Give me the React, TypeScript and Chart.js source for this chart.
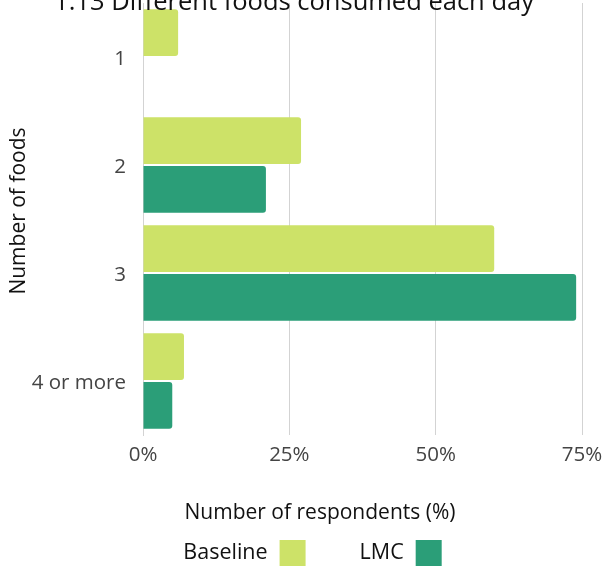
import React, { useEffect, useRef } from "react";
import { Chart, registerables } from "chart.js";

Chart.register(...registerables);

const TITLE = "1.13 Different foods consumed each day";
const categories = ["1", "2", "3", "4 or more"];
const baseline = [6, 27, 60, 7];
const lmc = [0, 21, 74, 5];
const xTicks = [0, 25, 50, 75];
const seriesNames = ["Baseline", "LMC"];
const seriesColors = ["#cde268", "#2b9e78"];
const xTitle = "Number of respondents (%)";
const yTitle = "Number of foods";

const FONT = "'Open Sans', sans-serif";

const textPlugin = {
  id: "chartTexts",
  afterDraw(chart: any) {
    const ctx = chart.ctx;
    ctx.save();
    // main title (cut off at the top edge, as in the reference)
    ctx.font = `25.5px ${FONT}`;
    ctx.fillStyle = "#111";
    ctx.textAlign = "center";
    ctx.textBaseline = "alphabetic";
    ctx.fillText(TITLE, 294, 10);

    // x-axis title
    ctx.font = `21px ${FONT}`;
    ctx.textBaseline = "middle";
    ctx.fillText(xTitle, 320, 513);

    // y-axis title
    ctx.save();
    ctx.translate(19, 211);
    ctx.rotate(-Math.PI / 2);
    ctx.fillText(yTitle, 0, 0);
    ctx.restore();

    // legend: label first, then colour box
    const box = 26;
    const gapText = 12;
    const gapItem = 54;
    ctx.font = `21.5px ${FONT}`;
    const items = chart.data.datasets.map((ds: any) => ({
      label: ds.label,
      color: ds.backgroundColor,
      w: ctx.measureText(ds.label).width,
    }));
    const total = items.reduce(
      (s: number, it: any, i: number) => s + it.w + gapText + box + (i ? gapItem : 0),
      0
    );
    let x = 312.5 - total / 2;
    const cy = 553;
    ctx.textAlign = "left";
    items.forEach((it: any, i: number) => {
      if (i) x += gapItem;
      ctx.fillStyle = "#111";
      ctx.fillText(it.label, x, cy);
      x += it.w + gapText;
      ctx.fillStyle = it.color;
      ctx.fillRect(x, cy - box / 2, box, box);
      x += box;
    });
    ctx.restore();
  },
};

export default function App() {
  const ref = useRef<HTMLCanvasElement | null>(null);

  useEffect(() => {
    if (!ref.current) return;
    const chart = new Chart(ref.current, {
      type: "bar",
      data: {
        labels: categories,
        datasets: [
          {
            label: seriesNames[0],
            data: baseline,
            backgroundColor: seriesColors[0],
            borderRadius: 3,
            borderSkipped: "start",
          },
          {
            label: seriesNames[1],
            data: lmc,
            backgroundColor: seriesColors[1],
            borderRadius: 3,
            borderSkipped: "start",
          },
        ],
      },
      options: {
        indexAxis: "y",
        animation: false,
        responsive: true,
        maintainAspectRatio: false,
        layout: { autoPadding: false, padding: { top: 3, bottom: 40, left: 0, right: 21 } },
        datasets: { bar: { categoryPercentage: 0.9, barPercentage: 0.96 } } as any,
        plugins: {
          legend: { display: false },
          title: { display: false },
          tooltip: { enabled: false },
        },
        scales: {
          x: {
            min: 0,
            max: 75,
            afterBuildTicks: (s: any) => {
              s.ticks = xTicks.map((v) => ({ value: v }));
            },
            ticks: {
              callback: (v: any) => v + "%",
              font: { family: FONT, size: 20.5 },
              color: "#444",
              padding: 8,
              maxRotation: 0,
            },
            grid: { color: "#d3d3d3", drawTicks: false },
            border: { display: false },
            afterFit: (s: any) => {
              s.height = 93;
              s.paddingLeft = 0;
              s.paddingRight = 0;
              s.paddingTop = 0;
              s.paddingBottom = 0;
            },
          },
          y: {
            ticks: {
              font: { family: FONT, size: 20.5 },
              color: "#444",
              padding: 17,
              labelOffset: 2,
            },
            grid: { display: false, drawTicks: false },
            border: { color: "#d3d3d3" },
            afterFit: (s: any) => {
              s.width = 143;
              s.paddingLeft = 0;
              s.paddingRight = 0;
              s.paddingTop = 0;
              s.paddingBottom = 0;
            },
          },
        },
      },
      plugins: [textPlugin],
    });
    return () => chart.destroy();
  }, []);

  return (
    <div style={{ position: "absolute", left: 0, top: 0, width: 603, height: 568 }}>
      <canvas ref={ref} />
    </div>
  );
}
